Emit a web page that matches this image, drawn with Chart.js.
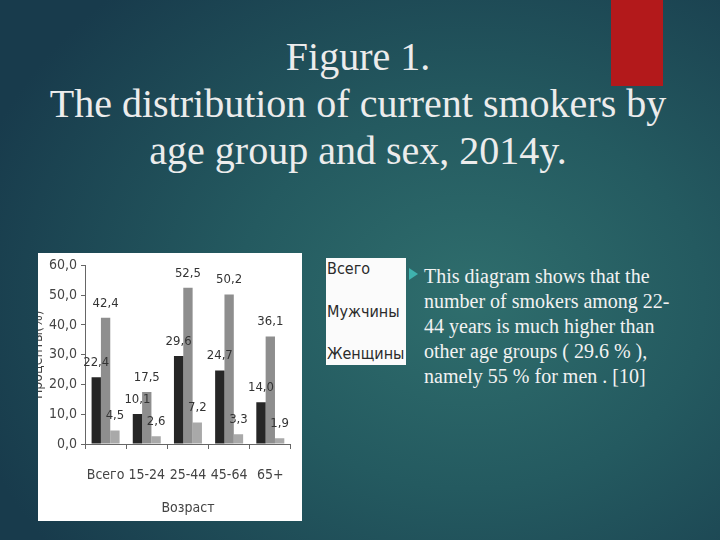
<!DOCTYPE html>
<html>
<head>
<meta charset="utf-8">
<script src="https://cdn.jsdelivr.net/npm/chart.js@4"></script>
<style>
  html, body { margin: 0; padding: 0; }
  body {
    width: 720px; height: 540px; overflow: hidden; position: relative;
    background: radial-gradient(ellipse 520px 420px at 470px 300px, #2f6e6d 0%, #245a60 45%, #183b4c 100%);
    font-family: "Liberation Serif", "Times New Roman", serif;
  }
  .redbar { position: absolute; left: 611px; top: 0; width: 52px; height: 86px; background: #b3191b; }
  .title {
    position: absolute; left: 0; top: 33px; width: 716px; text-align: center;
    color: #ececec; font-size: 40px; line-height: 47px; white-space: nowrap;
    font-family: "Liberation Serif", "Times New Roman", serif;
  }
  .panel { position: absolute; left: 38px; top: 253px; width: 264px; height: 268px; background: #fff; overflow: hidden; }
  .panel canvas { position: absolute; left: -8px; top: 0; }
  .legend {
    position: absolute; left: 326px; top: 258px; width: 80px; height: 107px; background: #fbfbfb; overflow: hidden;
    font-family: "DejaVu Sans Condensed", "DejaVu Sans", sans-serif; font-size: 16px; color: #2b2b2b;
  }
  .legend div { position: absolute; left: 1px; white-space: nowrap; }
  .bullet { position: absolute; left: 409px; top: 268px; width: 0; height: 0;
    border-top: 6px solid transparent; border-bottom: 6px solid transparent; border-left: 9px solid #3fb2ae; }
  .text {
    position: absolute; left: 424px; top: 264px; width: 296px; white-space: nowrap;
    color: #f2f2f2; font-size: 20px; line-height: 25px;
    font-family: "Liberation Serif", "Times New Roman", serif;
  }
</style>
</head>
<body>
<div class="redbar"></div>
<div class="title">Figure 1.<br>The distribution of current smokers by<br>age group and sex, 2014y.</div>

<div class="panel"><canvas id="chart" width="272" height="268"></canvas></div>

<div class="legend">
  <div style="top:1px">Всего</div>
  <div style="top:44px">Мужчины</div>
  <div style="top:86px">Женщины</div>
</div>

<div class="bullet"></div>
<div class="text">This diagram shows that the<br>number of smokers among 22-<br>44 years is much higher than<br>other age groups ( 29.6 % ),<br>namely 55 % for men . [10]</div>

<script>
const ageGroups = ["Всего", "15-24", "25-44", "45-64", "65+"];
const totalValues = [22.4, 10.1, 29.6, 24.7, 14.0];
const menValues = [42.4, 17.5, 52.5, 50.2, 36.1];
const womenValues = [4.5, 2.6, 7.2, 3.3, 1.9];
const yTicks = [0, 10, 20, 30, 40, 50, 60];

const chartFont = "'Liberation Sans Narrow', 'DejaVu Sans Condensed', sans-serif";

function fmt(v) {
  return v.toFixed(1).replace(".", ",");
}

// draws the value above every bar
const valueLabels = {
  id: "valueLabels",
  afterDatasetsDraw(chart) {
    const ctx = chart.ctx;
    ctx.save();
    ctx.font = "13px " + chartFont;
    ctx.fillStyle = "#333";
    ctx.textAlign = "center";
    ctx.textBaseline = "bottom";
    chart.data.datasets.forEach(function (ds, i) {
      chart.getDatasetMeta(i).data.forEach(function (bar, j) {
        ctx.fillText(fmt(ds.data[j]), bar.x, bar.y - 8);
      });
    });
    ctx.restore();
  }
};

const ctx = document.getElementById("chart").getContext("2d");
new Chart(ctx, {
  type: "bar",
  data: {
    labels: ageGroups,
    datasets: [
      { label: "Всего", data: totalValues, backgroundColor: "#262626" },
      { label: "Мужчины", data: menValues, backgroundColor: "#8e8e8e" },
      { label: "Женщины", data: womenValues, backgroundColor: "#a9a9a9" }
    ]
  },
  options: {
    responsive: false,
    animation: false,
    layout: { padding: { top: 0, right: 4, left: 0, bottom: 0 } },
    plugins: { legend: { display: false }, tooltip: { enabled: false } },
    datasets: { bar: { categoryPercentage: 0.68, barPercentage: 1.0 } },
    scales: {
      x: {
        afterFit: function (scale) { scale.height = 77; },
        grid: { offset: true, drawOnChartArea: false, tickLength: 5, color: "#666" },
        border: { color: "#666" },
        ticks: { color: "#444", font: { family: chartFont, size: 14 }, padding: 18, maxRotation: 0, minRotation: 0, autoSkip: false },
        title: { display: true, text: "Возраст", color: "#444", font: { family: chartFont, size: 14 }, padding: { top: 0, bottom: 4 } }
      },
      y: {
        min: 0, max: 60,
        afterFit: function (scale) { scale.width = 55; },
        afterBuildTicks: function (scale) { scale.ticks = yTicks.map(function (v) { return { value: v }; }); },
        grid: { drawOnChartArea: false, tickLength: 4, color: "#666" },
        border: { color: "#666" },
        ticks: { color: "#444", font: { family: chartFont, size: 14 }, padding: 4, callback: function (v) { return fmt(v); } },
        title: { display: true, text: "Проценты(%)", color: "#444", font: { family: chartFont, size: 14 }, padding: 0 }
      }
    }
  },
  plugins: [valueLabels]
});
</script>
</body>
</html>
